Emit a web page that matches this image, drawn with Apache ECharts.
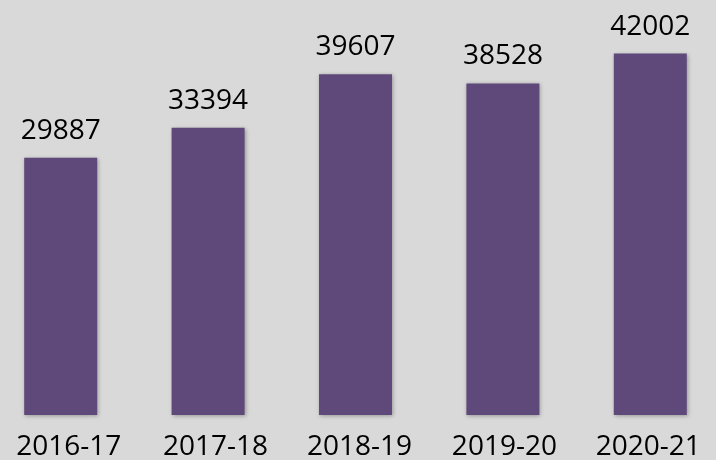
<!DOCTYPE html>
<html><head><meta charset="utf-8">
<script src="https://cdn.jsdelivr.net/npm/echarts@6/dist/echarts.min.js"></script>
<style>html,body{margin:0;padding:0;background:#d9d9d9}#c{width:716px;height:460px}</style>
</head><body><div id="c"></div>
<script>
const categories = ['2016-17','2017-18','2018-19','2019-20','2020-21'];
const values = [29887, 33394, 39607, 38528, 42002];
const chart = echarts.init(document.getElementById('c'));
const lblFont = {color: '#000', fontFamily: 'Open Sans', fontSize: 28};
chart.setOption({
  backgroundColor: '#d9d9d9',
  animation: false,
  grid: {left: -13, width: 737, top: 2, bottom: 45, outerBoundsMode: 'none', containLabel: false},
  xAxis: {
    type: 'category', data: categories,
    axisLine: {show: false}, axisTick: {show: false},
    axisLabel: Object.assign({}, lblFont, {
      margin: 18,
      interval: 0,
      hideOverlap: false,
      formatter: (v, i) => '{s' + i + '|' + v + '}',
      rich: {
        s0: Object.assign({}, lblFont, {padding: [0, 0, 0, 16]}),
        s1: Object.assign({}, lblFont, {padding: [0, 0, 0, 15]}),
        s2: Object.assign({}, lblFont, {padding: [0, 0, 0, 8]}),
        s3: Object.assign({}, lblFont, {padding: [0, 0, 0, 3]}),
        s4: Object.assign({}, lblFont, {padding: [0, 4, 0, 0]})
      }
    })
  },
  yAxis: {type: 'value', min: 0, max: 48000, show: false, splitLine: {show: false}},
  series: [{
    type: 'bar', data: values, barWidth: 73,
    itemStyle: {color: '#5f497a', shadowBlur: 4, shadowColor: 'rgba(0,0,0,0.3)', shadowOffsetX: 1, shadowOffsetY: 1},
    label: Object.assign({show: true, position: 'top', distance: 13}, lblFont)
  }]
});
</script></body></html>
